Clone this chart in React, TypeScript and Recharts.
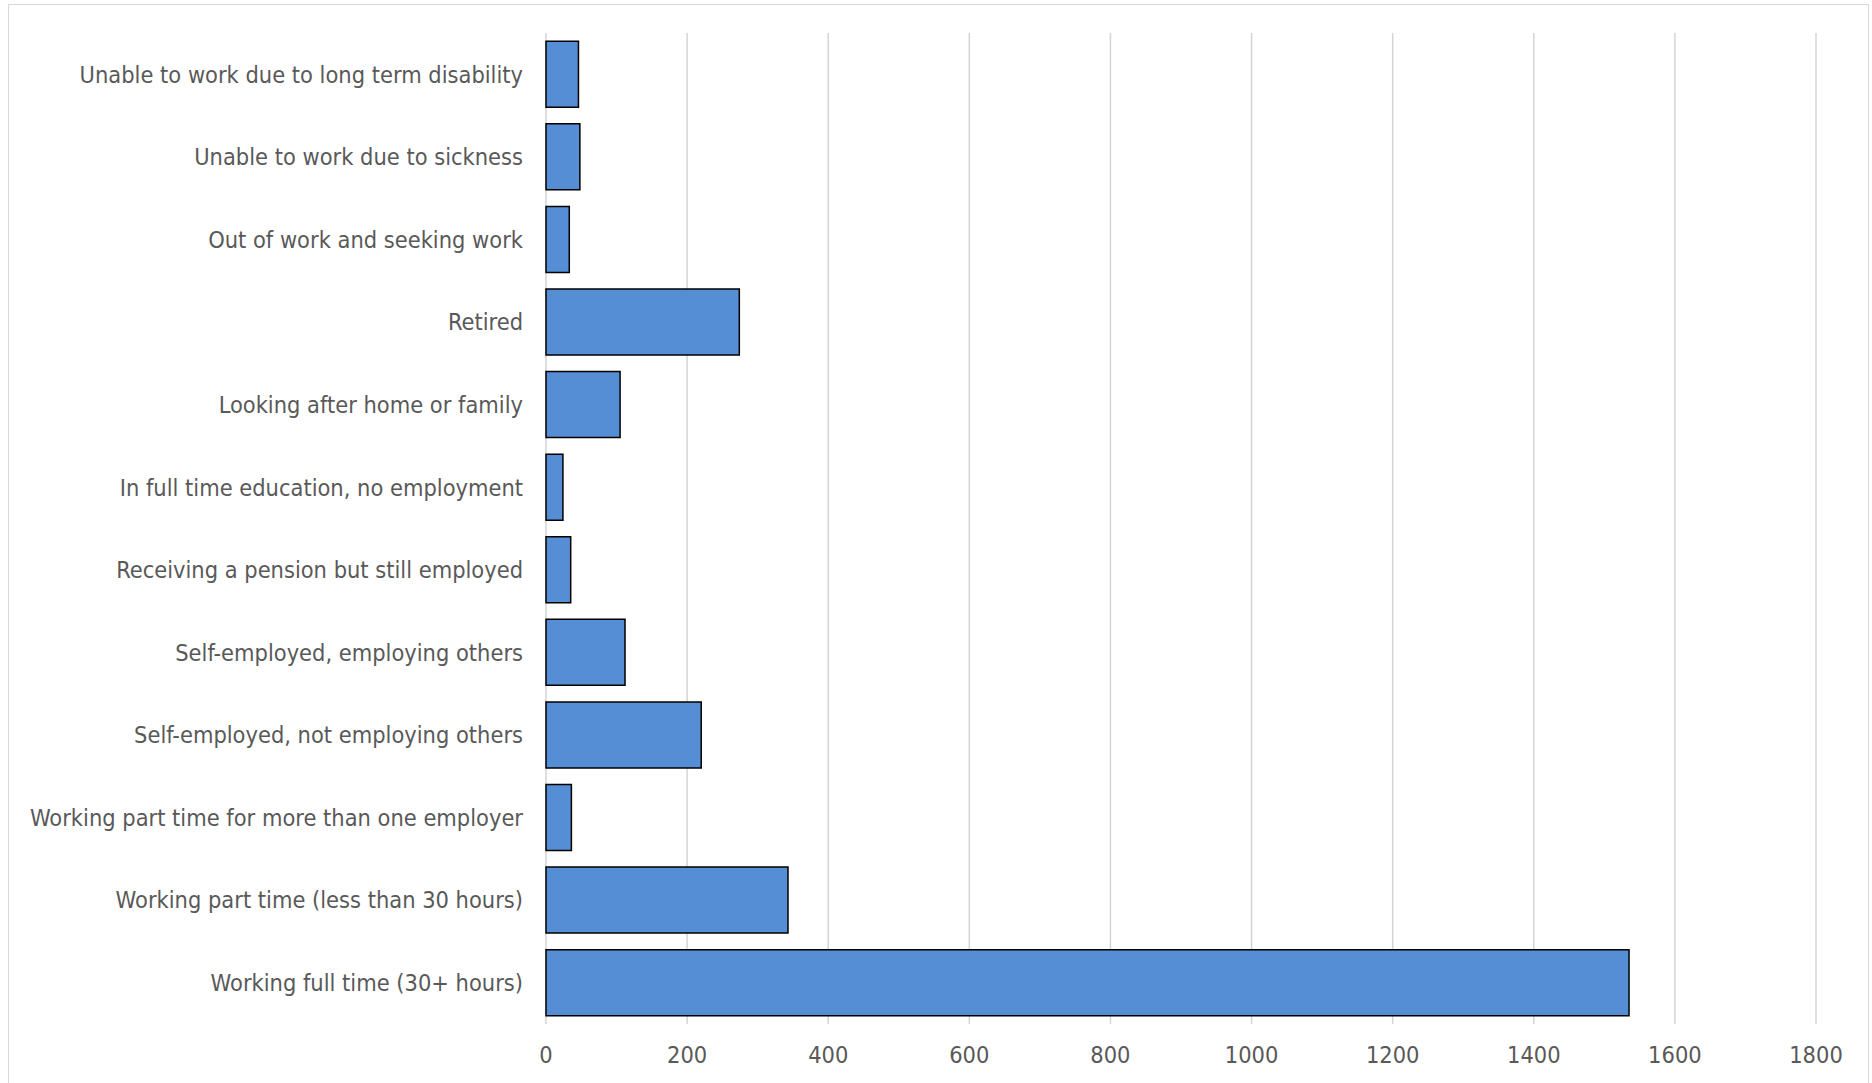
import { Bar, BarChart, CartesianGrid, XAxis, YAxis } from "recharts";

const categories = [
  "Unable to work due to long term disability",
  "Unable to work due to sickness",
  "Out of work and seeking work",
  "Retired",
  "Looking after home or family",
  "In full time education, no employment",
  "Receiving a pension but still employed",
  "Self-employed, employing others",
  "Self-employed, not employing others",
  "Working part time for more than one employer",
  "Working part time (less than 30 hours)",
  "Working full time (30+ hours)",
];
const counts = [46, 48, 33, 274, 105, 24, 35, 112, 220, 36, 343, 1535];
const xTicks = [0, 200, 400, 600, 800, 1000, 1200, 1400, 1600, 1800];

const data = categories.map((name, i) => ({ name, count: counts[i] }));

const FONT = "Tahoma, 'DejaVu Sans Condensed', 'Liberation Sans', sans-serif";
const tickStyle = { fill: "#595959", fontSize: 23.4, fontFamily: FONT };

export default function App() {
  return (
    <div style={{ position: "absolute", left: 0, top: 0, width: 1872, height: 1083, background: "#fff", overflow: "hidden" }}>
      {/* outer chart frame */}
      <div
        style={{
          position: "absolute",
          left: 8,
          top: 4,
          width: 1861,
          height: 1090,
          border: "1.5px solid #d9d9d9",
          boxSizing: "border-box",
        }}
      />
      <div style={{ position: "absolute", left: 0, top: 0 }}>
        <BarChart
          width={1872}
          height={1083}
          data={data}
          layout="vertical"
          margin={{ top: 33, right: 56, bottom: 19, left: 0 }}
          barCategoryGap="10%"
        >
          <CartesianGrid horizontal={false} stroke="#d4d4d4" strokeWidth={1.5} />
          <XAxis
            type="number"
            domain={[0, 1800]}
            ticks={xTicks}
            interval={0}
            axisLine={false}
            tickLine={false}
            tickMargin={16}
            height={40}
            tick={tickStyle}
          />
          <YAxis
            type="category"
            dataKey="name"
            width={546}
            interval={0}
            axisLine={false}
            tickLine={false}
            tickMargin={17}
            tick={tickStyle}
          />
          <Bar dataKey="count" fill="#558ed5" stroke="#000" strokeWidth={1.5} isAnimationActive={false} />
        </BarChart>
      </div>
    </div>
  );
}
